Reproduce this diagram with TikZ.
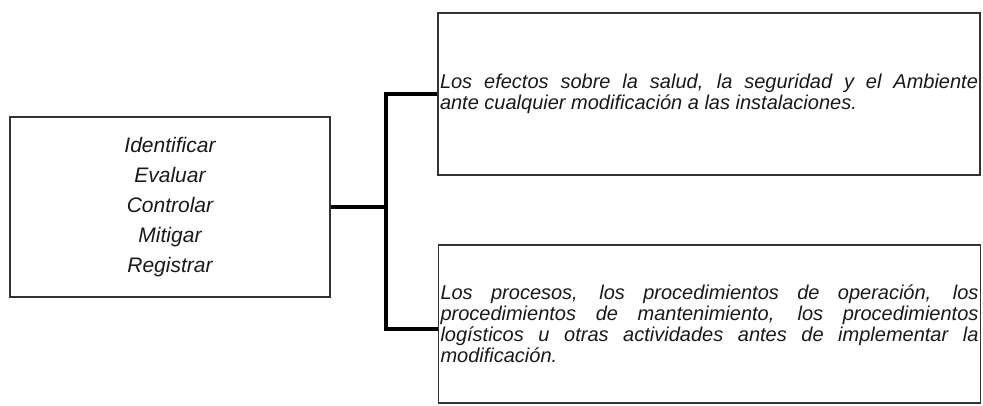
\documentclass[tikz,border=0pt]{standalone}
\usepackage{fontspec}
\setmainfont{Liberation Sans}
\usetikzlibrary{positioning}
\tolerance=10000
\hbadness=10000
\tikzset{x=1pt, y=1pt,
actbox/.style={draw=black!80, line width=1.3pt, text=black!90, minimum width=320pt, minimum height=180pt, align=center, font=\fontsize{21}{30}\selectfont\itshape},
txtbox/.style={draw=black!80, line width=1.3pt, text=black!90, text width=538pt, inner sep=2pt, align=justify, font=\fontsize{20}{21}\selectfont\itshape},
branch/.style={line width=3.8pt, black},
}

\begin{document}
\begin{tikzpicture}
    \useasboundingbox (-170,-198) rectangle (813,207);
    \node[actbox] (acc) {Identificar\\ Evaluar\\ Controlar\\ Mitigar\\ Registrar};
    \node[txtbox, minimum height=162pt, xshift=539pt, yshift=113pt] (efe)
        {Los efectos sobre la salud, la seguridad y el Ambiente\linebreak
         ante cualquier modificación a las instalaciones.};
    \node[txtbox, minimum height=158pt, xshift=539.5pt, yshift=-117pt] (pro)
        {Los procesos, los procedimientos de operación, los\linebreak
         procedimientos de mantenimiento, los procedimientos\linebreak
         logísticos u otras actividades antes de implementar la\linebreak
         modificación.};
    \coordinate[right=55pt of acc.east] (split);
    \draw[branch]
        (acc.east) -- (split)
        (efe.west) -| (split) |- ([yshift=-5pt]pro.west)
        ;
\end{tikzpicture}
\end{document}
